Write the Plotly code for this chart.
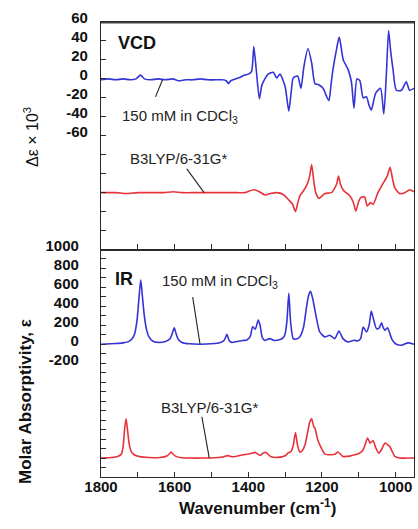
import plotly.graph_objects as go
from plotly.subplots import make_subplots

# ---------------- data ----------------
# VCD, experimental (150 mM in CDCl3), delta-epsilon x 10^3
vcd_exp_wn = [1800,1780,1760,1740,1720,1705,1693,1682,1665,1645,
              1625,1605,1590,1570,1550,1530,1510,1490,1470,1460,
              1454,1448,1435,1420,1410,1400,1391,1385,1378,1370,
              1364,1359,1346,1332,1323,1314,1300,1290,1283,1278,
              1266,1257,1249,1238,1228,1219,1210,1197,1188,1181,
              1175,1170,1160,1153,1142,1129,1120,1113,1105,1097,
              1088,1079,1072,1066,1054,1041,1032,1025,1019,1013,
              1007,998,984,971,962,950]
vcd_exp = [-1,0,-1,0,-1,0,4,0,-1,0,
           -1,0,-2,-1,-1,0,-1,-1,-1,-2,
           -5,-2,0,2,4,5,8,34,8,-21,
           -8,-3,5,7,1,5,-8,-34,-12,1,
           3,-10,13,32,17,-5,-6,-10,-18,-23,
           -5,10,32,44,20,10,-3,-31,0,-2,
           -20,-19,-28,-33,-15,-10,-37,5,51,28,
           10,-12,-12,-3,-12,-10]

# VCD, calculated (B3LYP/6-31G*), plotted with an offset
vcd_calc_wn = [1800,1780,1760,1730,1700,1660,1630,1604,1580,1540,
               1500,1460,1430,1409,1386,1370,1355,1340,1323,1305,
               1292,1280,1272,1265,1260,1250,1240,1233,1228,1222,
               1217,1208,1192,1174,1165,1160,1155,1150,1142,1124,
               1115,1108,1100,1094,1084,1077,1068,1061,1048,1038,
               1030,1022,1015,1008,1002,989,975,962,950]
vcd_calc = [0,0,0,-1,0,0,0,1,0,0,
            0,0,0,0,3,1,-2.5,-1,0,-2,
            -7,-12,-20,-10,-3.5,2,9,18,29.5,12,
            0,-6,-1,0,5,9,17.5,9,2.5,-3.5,
            -10,-19.5,-9,-5,-4.6,-14,-10.6,-12.4,0,7,
            12.4,18,26.6,14,5,-1,0,3,1]
vcd_calc_offset = -120

# IR, experimental, molar absorptivity
ir_exp_wn = [1800,1760,1740,1725,1715,1708,1702,1697,1692,1687,
             1682,1676,1670,1660,1645,1625,1612,1606,1601,1596,
             1590,1580,1560,1531,1500,1475,1465,1458,1452,1445,
             1430,1415,1404,1395,1388,1381,1373,1368,1362,1355,
             1342,1330,1314,1305,1300,1295,1290,1285,1278,1270,
             1260,1250,1242,1236,1231,1225,1219,1212,1206,1192,
             1179,1165,1154,1143,1129,1113,1103,1095,1088,1079,
             1072,1066,1059,1052,1045,1038,1034,1029,1022,1016,
             1011,1004,998,984,966,950]
ir_exp = [0,8,15,28,60,120,260,480,680,480,
          290,150,80,35,20,30,60,120,175,110,
          50,20,5,0,5,20,45,105,40,20,
          30,40,45,80,185,160,255,200,70,40,
          60,40,50,70,112,250,540,230,60,55,
          80,180,390,520,560,480,360,220,130,77,
          95,60,140,60,25,42,35,60,182,130,
          200,351,250,165,170,228,180,147,175,120,
          60,20,0,-10,15,0]

# IR, calculated, plotted with an offset
ir_calc_wn = [1800,1770,1755,1745,1740,1736,1732,1728,1724,1718,
              1710,1695,1670,1640,1620,1614,1610,1605,1598,1585,
              1560,1520,1490,1470,1462,1454,1446,1435,1420,1400,
              1390,1382,1368,1360,1352,1340,1319,1300,1292,1284,
              1278,1272,1266,1260,1253,1246,1238,1233,1228,1222,
              1219,1212,1206,1192,1174,1165,1156,1143,1125,1111,
              1098,1088,1082,1076,1072,1069,1061,1054,1046,1038,
              1032,1028,1022,1016,1008,1002,990,970,950]
ir_calc = [0,5,15,40,120,300,414,300,160,70,
           35,15,5,5,25,45,63,45,20,5,
           0,0,3,10,20,25,15,17,30,42,
           50,60,28,50,60,17,7,25,53,70,
           130,270,130,63,80,140,290,380,414,330,
           316,200,140,42,35,40,63,17,20,35,
           50,88,150,210,180,158,182,110,53,90,
           140,158,140,123,60,17,0,0,0]
ir_calc_offset = -1200

assert len(vcd_exp_wn) == len(vcd_exp)
assert len(vcd_calc_wn) == len(vcd_calc)
assert len(ir_exp_wn) == len(ir_exp)
assert len(ir_calc_wn) == len(ir_calc)

x_tick_labels = ["1800", "1600", "1400", "1200", "1000"]
vcd_tick_labels = ["60", "40", "20", "0", "-20", "-40", "-60"]
ir_tick_labels = ["1000", "800", "600", "400", "200", "0", "-200"]

# ---------------- styling ----------------
FONT = "Liberation Sans, Arial, sans-serif"
BLUE = "#3434d6"
RED = "#e8323a"
AXC = "#2a2a2a"

fig = make_subplots(rows=2, cols=1, shared_xaxes=True, vertical_spacing=0)

line_style = dict(width=1.6, shape="spline", smoothing=0.6)
fig.add_trace(go.Scatter(x=vcd_exp_wn, y=vcd_exp, mode="lines",
                         line=dict(color=BLUE, **line_style)), row=1, col=1)
fig.add_trace(go.Scatter(x=vcd_calc_wn, y=[v + vcd_calc_offset for v in vcd_calc], mode="lines",
                         line=dict(color=RED, **line_style)), row=1, col=1)
fig.add_trace(go.Scatter(x=ir_exp_wn, y=ir_exp, mode="lines",
                         line=dict(color=BLUE, **line_style)), row=2, col=1)
fig.add_trace(go.Scatter(x=ir_calc_wn, y=[v + ir_calc_offset for v in ir_calc], mode="lines",
                         line=dict(color=RED, **line_style)), row=2, col=1)

L, R, T, B = 101, 4, 22, 52
W, H = 418, 529

tickfont = dict(family=FONT, size=15, color="#111", weight="bold")

# x axes
x_vals = list(range(1800, 950, -100))
x_text = [str(v) if str(v) in x_tick_labels else "" for v in x_vals]
x_common = dict(range=[1800, 950], showgrid=False, zeroline=False, showline=True,
                linecolor=AXC, linewidth=1.3, mirror=True, ticks="inside",
                ticklen=5, tickwidth=1.2, tickcolor=AXC, tickmode="array",
                tickvals=x_vals)
fig.update_xaxes(**x_common, showticklabels=False, row=1, col=1)
fig.update_xaxes(**x_common, row=2, col=1, ticktext=x_text, tickfont=tickfont,
                 ticklabeloverflow="allow", ticklabelstandoff=-4)

# top y axis (VCD)
vcd_vals = list(range(60, -180, -20))
vcd_text = [str(v) if str(v) in vcd_tick_labels else "" for v in vcd_vals]
fig.update_yaxes(range=[-180, 60], showgrid=False, zeroline=False, showline=True,
                 linecolor=AXC, linewidth=1.3, mirror=True, ticks="inside",
                 ticklen=5, tickwidth=1.2, tickcolor=AXC, tickmode="array",
                 tickvals=vcd_vals, ticktext=vcd_text, tickfont=tickfont,
                 ticklabelstandoff=9, ticklabelshift=-4, ticklabeloverflow="allow",
                 row=1, col=1)

# bottom y axis (IR)
ir_vals = list(range(1000, -1400, -100))
ir_text = [str(v) if str(v) in ir_tick_labels else "" for v in ir_vals]
fig.update_yaxes(range=[-1400, 1000], showgrid=False, zeroline=False, showline=True,
                 linecolor=AXC, linewidth=1.3, mirror=True, ticks="inside",
                 ticklen=5, tickwidth=1.2, tickcolor=AXC, tickmode="array",
                 tickvals=ir_vals, ticktext=ir_text, tickfont=tickfont,
                 ticklabelstandoff=18, ticklabelshift=-4, ticklabeloverflow="allow",
                 row=2, col=1)

def paper(px, py):
    return (px - L) / (W - L - R), (H - B - py) / (H - T - B)

annots = []
txt = dict(family=FONT, size=15, color="#222")

# panel labels and trace labels (data coordinates)
annots.append(dict(x=1702, y=38, xref="x", yref="y", text="VCD", showarrow=False,
                   xanchor="center", yanchor="middle",
                   font=dict(family=FONT, size=18, color="#111", weight="bold")))
annots.append(dict(x=1748, y=-40, xref="x", yref="y", text="150 mM in CDCl<sub>3</sub>",
                   showarrow=False, xanchor="left", yanchor="middle", font=txt))
annots.append(dict(x=1590, y=-84, xref="x", yref="y", text="B3LYP/6-31G*",
                   showarrow=False, xanchor="center", yanchor="middle", font=txt))
annots.append(dict(x=1737, y=684, xref="x2", yref="y2", text="IR", showarrow=False,
                   xanchor="center", yanchor="middle",
                   font=dict(family=FONT, size=18, color="#111", weight="bold")))
annots.append(dict(x=1639, y=663, xref="x2", yref="y2", text="150 mM in CDCl<sub>3</sub>",
                   showarrow=False, xanchor="left", yanchor="middle", font=txt))
annots.append(dict(x=1505, y=-663, xref="x2", yref="y2", text="B3LYP/6-31G*",
                   showarrow=False, xanchor="center", yanchor="middle", font=txt))

# axis titles
px_, py_ = paper(31, 137)
annots.append(dict(x=px_, y=py_, xref="paper", yref="paper", text="Δε × 10<sup>3</sup>",
                   textangle=-90, showarrow=False, xanchor="center", yanchor="middle",
                   font=dict(family=FONT, size=16, color="#111")))
px_, py_ = paper(25, 402)
annots.append(dict(x=px_, y=py_, xref="paper", yref="paper", text="Molar Absorptivity, ε",
                   textangle=-90, showarrow=False, xanchor="center", yanchor="middle",
                   font=dict(family=FONT, size=17, color="#111", weight="bold")))
px_, py_ = paper(257, 507)
annots.append(dict(x=px_, y=py_, xref="paper", yref="paper", text="Wavenumber (cm<sup>-1</sup>)",
                   showarrow=False, xanchor="center", yanchor="middle",
                   font=dict(family=FONT, size=17, color="#111", weight="bold")))

fig.update_layout(annotations=annots)

# leader lines
lead = dict(color="#222", width=1.1)
fig.add_shape(type="line", x0=1652, y0=-19, x1=1633, y1=-1, xref="x", yref="y", line=lead)
fig.add_shape(type="line", x0=1567, y0=-95, x1=1520, y1=-120, xref="x", yref="y", line=lead)
fig.add_shape(type="line", x0=1551, y0=498, x1=1531, y1=0, xref="x2", yref="y2", line=lead)
fig.add_shape(type="line", x0=1526, y0=-765, x1=1506, y1=-1200, xref="x2", yref="y2", line=lead)
# top edge of the frame (drawn slightly inside so it is not lost at the plot edge)
fig.add_shape(type="line", x0=0, x1=1, y0=0.9985, y1=0.9985, xref="paper", yref="paper",
              line=dict(color="#444444", width=1.6), layer="above")

fig.update_layout(width=W, height=H, margin=dict(l=L, r=R, t=T, b=B),
                  paper_bgcolor="white", plot_bgcolor="white", showlegend=False)

fig.write_html("out.html", config={"displayModeBar": False},
               post_script="document.body.style.margin='0px';")
